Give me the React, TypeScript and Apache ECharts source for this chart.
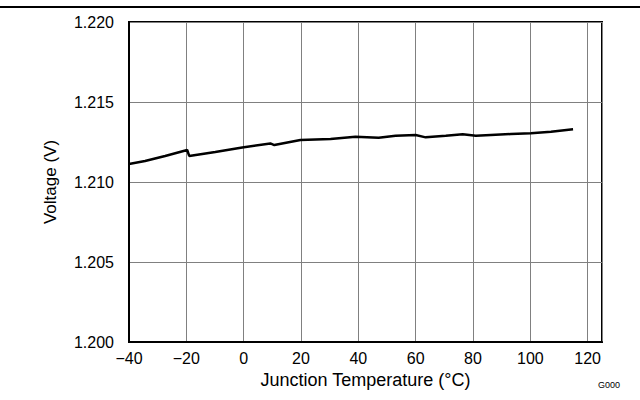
import React, { useEffect, useRef } from "react";
import * as echarts from "echarts";

const temperatures: number[] = [
  -40, -34.4, -27.4, -19.7, -19.0, -9.9, -0.5, 9.3, 10.7, 19.8, 30.3, 39.0,
  47.1, 53.0, 60.0, 63.5, 70.5, 76.4, 81.0, 86.2, 93.2, 100.2, 107.2, 114.9,
];
const voltages: number[] = [
  1.21113, 1.21131, 1.21163, 1.2120, 1.21163, 1.21188, 1.21216, 1.21241,
  1.21231, 1.21263, 1.21269, 1.21283, 1.21277, 1.21289, 1.21294, 1.21279,
  1.21289, 1.21298, 1.21289, 1.21294, 1.213, 1.21304, 1.21314, 1.21329,
];
const xTicks = { min: -40, max: 125, interval: 20 };
const yTicks = { min: 1.2, max: 1.22, interval: 0.005 };
const xName = "Junction Temperature (°C)";
const yName = "Voltage (V)";
const footnote = "G000";

const FONT = "Liberation Sans, Arial, sans-serif";

export default function App() {
  const ref = useRef<HTMLDivElement>(null);
  useEffect(() => {
    if (!ref.current) return;
    const chart = echarts.init(ref.current, null, { renderer: "svg" });
    const data = temperatures.map((t, i) => [t, voltages[i]]);
    chart.setOption({
      animation: false,
      backgroundColor: "#ffffff",
      grid: {
        left: 129,
        right: 38,
        top: 22,
        bottom: 58,
        show: true,
        borderColor: "#000",
        borderWidth: 2,
      },
      xAxis: {
        type: "value",
        min: xTicks.min,
        max: xTicks.max,
        interval: xTicks.interval,
        name: xName,
        nameLocation: "middle",
        nameGap: 29,
        nameTextStyle: { fontFamily: FONT, fontSize: 18, color: "#000" },
        axisLine: { show: true, onZero: false, lineStyle: { color: "#000", width: 2 } },
        axisTick: { show: false },
        axisLabel: {
          fontFamily: FONT,
          fontSize: 16,
          color: "#000",
          margin: 8,
          showMaxLabel: false,
          formatter: (v: number) => (v < 0 ? "\u2212" + Math.abs(v) : String(v)),
        },
        splitLine: { show: true, lineStyle: { color: "#808080", width: 1 } },
      },
      yAxis: {
        type: "value",
        min: yTicks.min,
        max: yTicks.max,
        interval: yTicks.interval,
        name: yName,
        nameLocation: "middle",
        nameGap: 70,
        nameTextStyle: { fontFamily: FONT, fontSize: 17, color: "#000" },
        axisLine: { show: true, onZero: false, lineStyle: { color: "#000", width: 2 } },
        axisTick: { show: false },
        axisLabel: {
          fontFamily: FONT,
          fontSize: 16,
          color: "#000",
          margin: 15,
          formatter: (v: number) => v.toFixed(3),
        },
        splitLine: { show: true, lineStyle: { color: "#808080", width: 1 } },
      },
      series: [
        {
          type: "line",
          data,
          showSymbol: false,
          lineStyle: { color: "#000", width: 2.5 },
        },
      ],
      graphic: [
        {
          type: "rect",
          z: 100,
          silent: true,
          shape: { x: 0, y: 6, width: 640, height: 2 },
          style: { fill: "#000000" },
        },
        {
          type: "text",
          z: 100,
          x: 598,
          y: 380,
          style: { text: footnote, fontFamily: FONT, fontSize: 9, fill: "#000" },
        },
      ],
    });
    return () => chart.dispose();
  }, []);
  return (
    <div
      ref={ref}
      style={{ position: "fixed", left: 0, top: 0, width: 640, height: 400 }}
    />
  );
}
